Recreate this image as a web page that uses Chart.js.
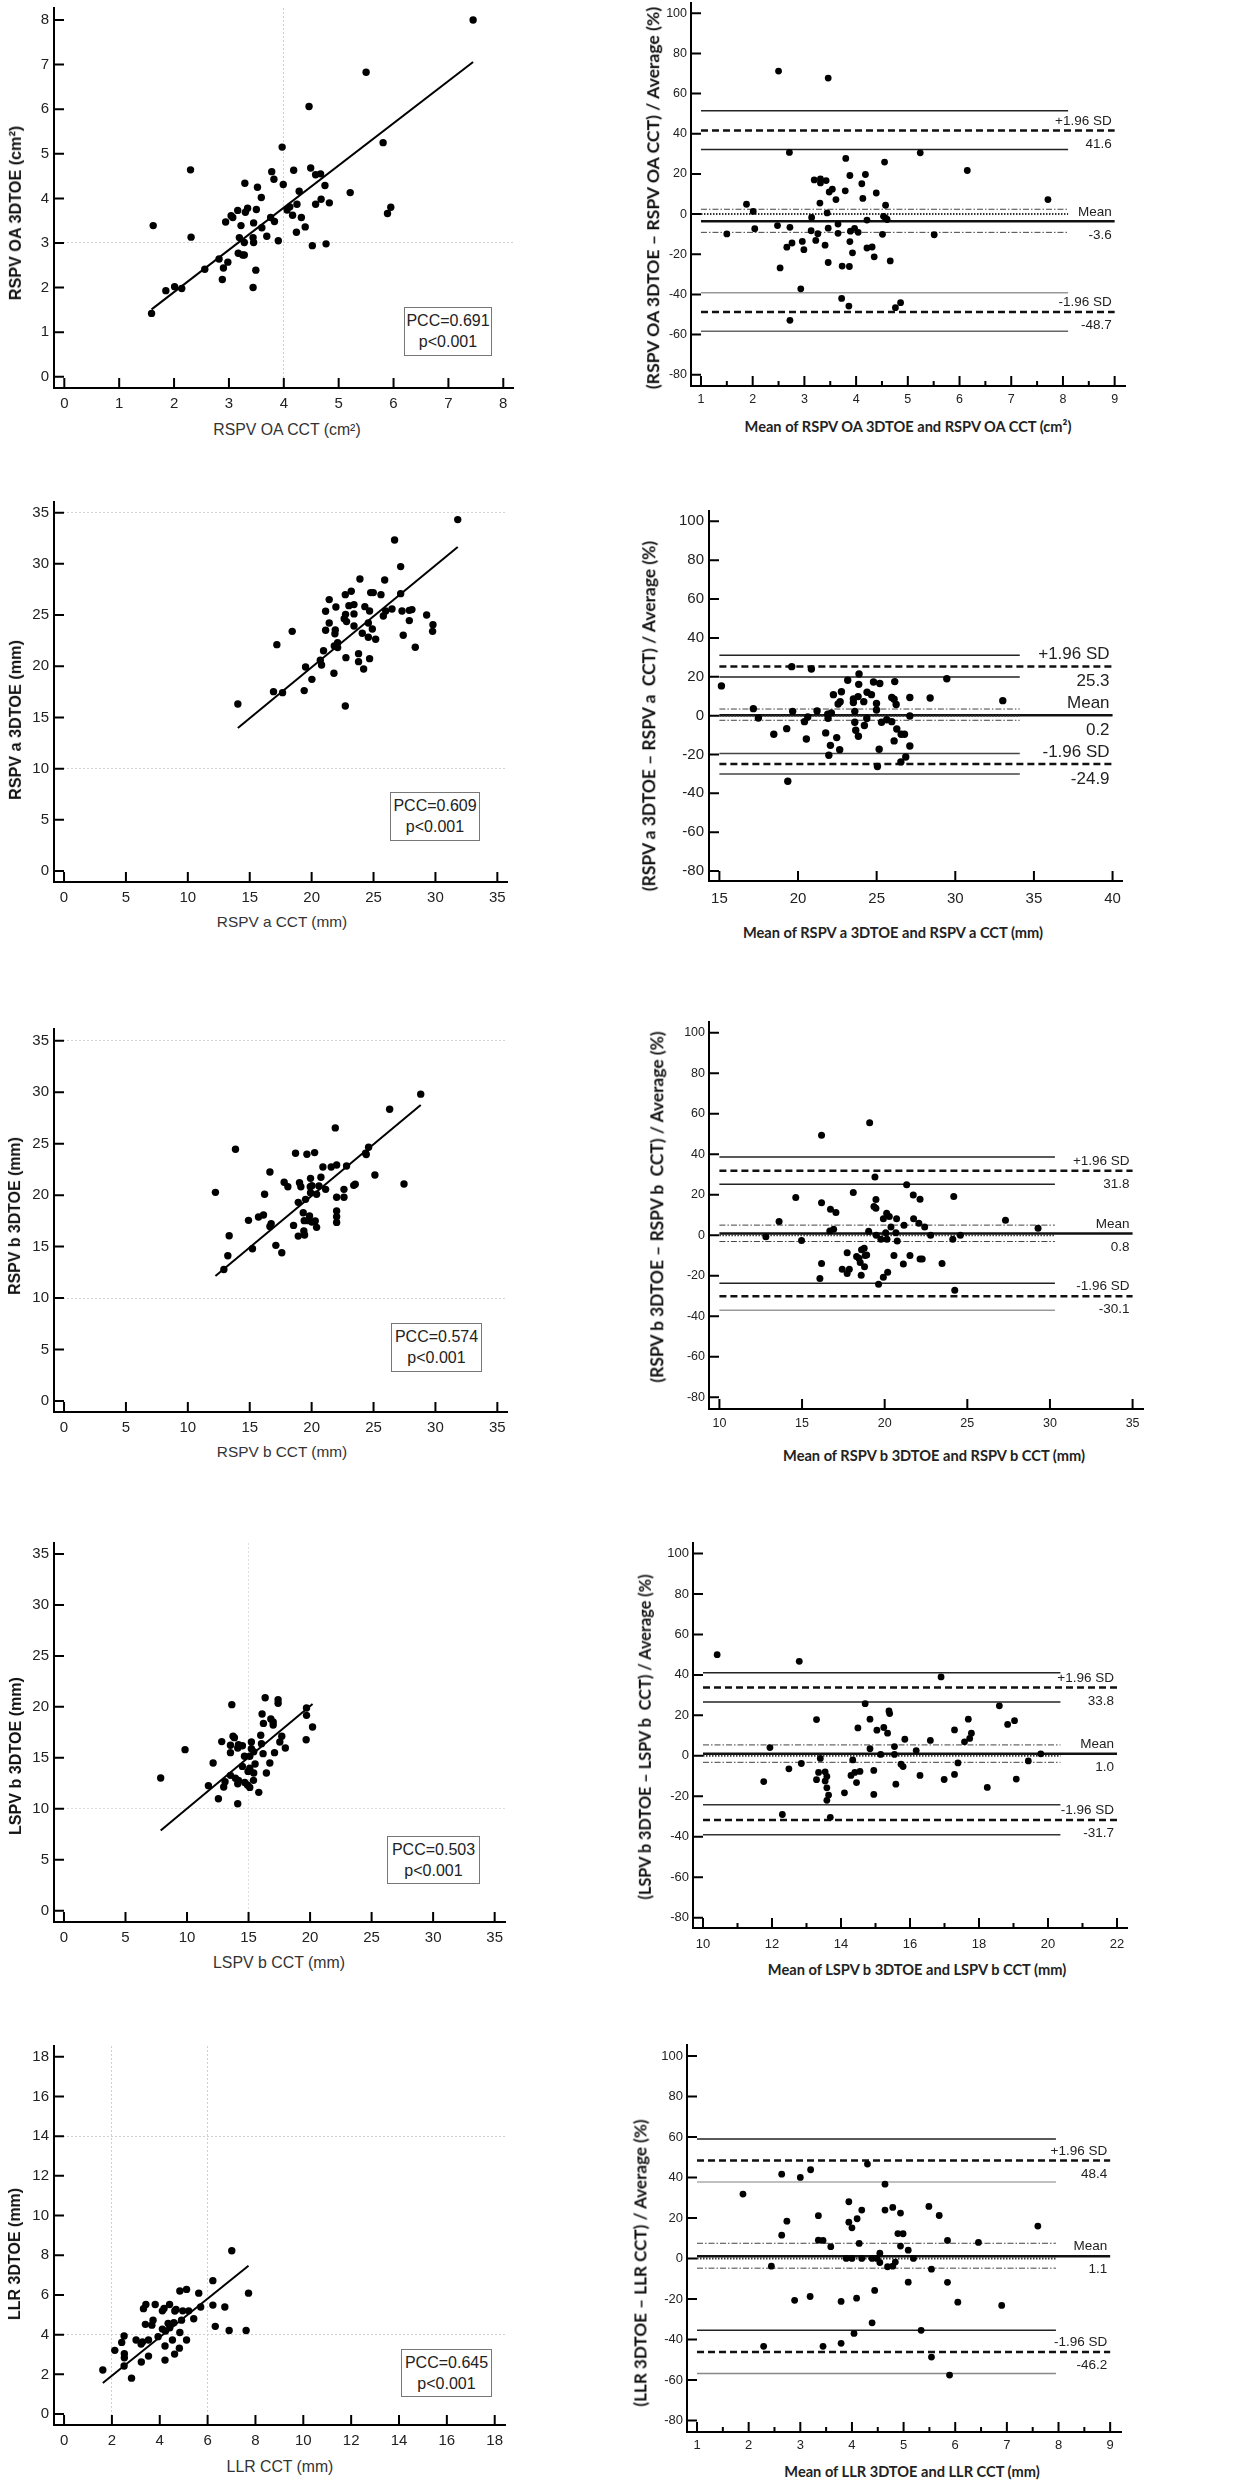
<!DOCTYPE html>
<html><head><meta charset="utf-8">
<script src="https://cdn.jsdelivr.net/npm/chart.js"></script>
<style>
html,body{margin:0;padding:0;background:#fff;}
#page{position:relative;width:1248px;height:2480px;overflow:hidden;background:#fff;}
canvas{position:absolute;}
.t{position:absolute;white-space:pre;line-height:1;transform:translate(-50%,-50%);}
.rot{transform:translate(-50%,-50%) rotate(-90deg);}
.sx{font-family:"Liberation Sans",Arial,sans-serif;font-size:15.5px;color:#333;}
.sy{font-family:"Liberation Sans",Arial,sans-serif;font-weight:bold;font-size:16px;color:#111;}
.bx{font-family:Lato,"Open Sans",sans-serif;font-weight:bold;font-size:15px;color:#222;}
.by{font-family:Lato,"Open Sans",sans-serif;font-weight:bold;font-size:16.5px;color:#111;}
.pcc{position:absolute;border:1.5px solid #777;background:#fff;font-family:"Liberation Sans",Arial,sans-serif;font-size:16px;color:#222;text-align:center;box-sizing:border-box;line-height:21px;padding-top:2px;}
</style></head><body><div id="page"></div>
<script>
// ---------------- DATA ----------------
// Row 1: RSPV OA (cm2)
const oaScatter = [[7.45,8.00],[5.50,6.83],[4.46,6.06],[5.81,5.25],[3.97,5.15],[2.30,4.64],[4.49,4.68],[4.18,4.63],[3.78,4.60],[4.58,4.53],[4.67,4.55],[3.82,4.43],[3.29,4.34],[3.99,4.31],[4.75,4.29],[3.52,4.25],[4.28,4.16],[5.21,4.13],[3.59,4.02],[4.68,3.98],[4.83,3.90],[4.58,3.87],[4.24,3.87],[5.95,3.80],[4.11,3.81],[4.06,3.74],[3.34,3.78],[3.16,3.73],[3.50,3.75],[3.30,3.69],[5.89,3.66],[4.16,3.62],[3.04,3.61],[3.07,3.57],[3.76,3.57],[4.32,3.57],[2.94,3.47],[3.45,3.45],[3.83,3.48],[1.62,3.39],[3.22,3.39],[4.39,3.36],[3.60,3.34],[4.23,3.24],[3.69,3.15],[2.31,3.13],[3.19,3.12],[3.44,3.12],[3.90,3.05],[3.28,3.01],[3.45,3.01],[4.52,2.94],[4.77,2.98],[3.17,2.77],[3.25,2.73],[3.28,2.73],[2.82,2.64],[2.98,2.57],[2.56,2.41],[2.90,2.44],[3.49,2.39],[2.88,2.18],[2.01,2.02],[2.14,1.98],[1.85,1.93],[3.44,2.00],[1.59,1.42]];
const oaFit = [0.004, 0.947]; // intercept, slope
const oaBA = [[2.50,71.2],[3.46,67.7],[2.71,30.7],[5.24,30.5],[3.80,27.7],[4.55,25.9],[6.15,21.7],[4.18,19.7],[3.88,19.2],[3.19,17.0],[3.31,17.5],[3.42,16.7],[3.31,15.5],[4.11,15.1],[3.54,12.4],[3.48,11.0],[3.79,11.6],[4.39,10.5],[4.13,7.8],[3.61,7.2],[7.71,7.2],[1.88,4.9],[3.30,5.5],[4.57,4.4],[2.01,1.3],[3.44,0.6],[3.14,-1.7],[4.53,-1.1],[4.57,-2.0],[4.60,-2.7],[4.21,-3.0],[3.65,-5.0],[2.48,-5.7],[2.72,-6.6],[2.04,-7.3],[3.46,-7.0],[3.97,-7.1],[3.89,-8.5],[3.13,-8.3],[4.04,-9.1],[3.26,-9.8],[3.65,-9.6],[1.50,-9.9],[5.51,-10.3],[4.51,-10.1],[3.22,-13.1],[2.96,-13.6],[3.88,-13.7],[2.76,-14.4],[3.40,-15.5],[2.66,-16.5],[4.31,-16.4],[4.21,-16.9],[2.99,-17.7],[3.93,-19.3],[4.35,-21.3],[4.66,-23.3],[3.46,-24.1],[3.73,-25.9],[3.87,-26.1],[2.53,-26.8],[2.93,-37.2],[3.72,-42.0],[4.86,-44.1],[3.86,-45.8],[4.76,-46.6],[2.72,-52.9]];
// limits: [upperCIhi, +1.96SD, upperCIlo, meanCIhi, mean, meanCIlo, lowerCIhi, -1.96SD, lowerCIlo]
const oaLimits = [51.5, 41.6, 32.2, 2.4, -3.6, -9.1, -39.2, -48.7, -58.4];

// Row 2: RSPV a (mm)
const aScatter = [[31.80,34.32],[26.70,32.33],[27.19,29.73],[23.90,28.52],[25.90,28.43],[23.20,27.32],[22.72,26.99],[27.19,27.09],[24.77,27.19],[24.98,27.19],[25.60,26.99],[21.42,26.51],[23.01,25.92],[23.42,26.02],[21.96,25.79],[24.30,25.82],[26.49,25.59],[25.98,25.40],[27.30,25.40],[27.89,25.46],[28.10,25.53],[21.13,25.37],[24.68,25.40],[22.74,25.07],[23.42,25.11],[25.79,24.91],[29.29,25.01],[22.63,24.65],[22.82,24.36],[21.42,24.23],[24.58,24.23],[27.89,24.46],[29.80,24.06],[23.42,23.93],[24.90,23.64],[21.13,23.51],[21.91,23.54],[18.43,23.41],[29.77,23.41],[24.09,23.22],[21.88,23.18],[27.40,23.02],[24.58,22.83],[25.17,22.63],[17.19,22.11],[22.10,22.31],[21.83,21.98],[22.10,21.82],[28.37,21.85],[20.96,21.52],[23.79,21.23],[22.77,20.84],[23.79,20.45],[24.68,20.74],[20.70,20.58],[20.80,20.12],[19.51,19.93],[24.20,19.73],[21.80,19.31],[20.02,18.72],[16.92,17.52],[17.65,17.42],[19.40,17.62],[22.72,16.12],[14.04,16.31]];
const aFit = [0.0, 0.995];
const aBA = [[15.13,15.3],[17.16,3.6],[17.48,-1.2],[18.46,-9.6],[19.28,-6.7],[19.35,-33.8],[19.60,25.2],[19.66,2.2],[20.85,24.0],[20.41,-3.1],[20.62,-0.7],[20.53,-12.0],[21.21,2.4],[21.76,-8.9],[21.89,0.7],[21.91,-1.4],[22.12,1.4],[21.96,-20.4],[22.06,-15.3],[22.25,10.8],[22.76,12.3],[22.55,6.0],[22.68,7.2],[22.46,-11.3],[22.65,-17.5],[23.16,18.2],[23.52,6.7],[23.52,8.6],[23.82,9.8],[23.86,16.1],[23.88,21.4],[23.61,2.2],[23.61,-3.4],[23.67,-7.5],[23.84,-10.6],[24.18,7.2],[24.39,12.0],[24.67,10.8],[24.37,-1.5],[24.22,-5.1],[24.80,17.3],[24.99,6.3],[24.99,2.9],[25.20,16.5],[25.31,-3.4],[25.64,-2.1],[25.16,-17.3],[25.05,-26.2],[25.96,9.3],[26.11,8.4],[26.15,17.5],[26.24,5.7],[25.96,-3.1],[26.28,-6.9],[26.11,-13.0],[26.56,-9.6],[26.77,-9.6],[27.11,9.3],[27.11,-0.2],[27.11,-15.6],[26.85,-21.3],[26.54,-23.8],[28.40,9.1],[29.46,19.0],[33.02,7.7]];
const aLimits = [31.1, 25.3, 19.9, 3.4, 0.2, -2.4, -19.5, -24.9, -30.1];

// Row 3: RSPV b (mm)
const bScatter = [[28.81,29.81],[26.30,28.35],[21.91,26.53],[13.85,24.46],[24.60,24.65],[18.70,24.07],[19.62,23.97],[20.24,24.13],[24.41,23.94],[20.91,22.74],[21.58,22.74],[22.02,22.93],[22.82,22.83],[16.63,22.25],[25.11,21.96],[20.75,21.73],[27.46,21.08],[23.52,21.05],[23.40,20.95],[19.91,21.63],[17.78,21.25],[18.08,20.82],[19.02,21.21],[19.13,20.82],[19.89,20.82],[20.02,20.92],[20.59,20.89],[21.13,20.56],[22.61,20.56],[16.20,20.08],[19.91,20.24],[20.40,20.08],[22.02,19.79],[22.61,19.79],[18.92,19.30],[19.51,19.59],[19.32,18.29],[19.83,17.97],[19.40,17.52],[19.72,17.52],[20.02,17.39],[20.29,17.48],[20.40,16.87],[22.02,18.46],[22.02,17.90],[22.02,17.35],[18.92,16.02],[19.37,16.51],[19.43,16.12],[18.54,17.06],[17.11,15.12],[17.59,14.40],[16.73,17.22],[16.63,16.96],[16.11,18.07],[15.71,17.87],[14.90,17.55],[15.22,14.79],[13.34,16.06],[13.23,14.11],[12.91,12.78],[12.23,20.27],[24.36,24.07]];
const bFit = [-0.12, 1.002];
const bBA = [[19.09,55.5],[16.18,49.4],[19.41,28.8],[21.33,24.9],[18.10,21.1],[14.62,18.6],[21.73,19.9],[24.18,19.1],[22.14,17.8],[19.47,17.6],[16.18,16.1],[16.72,12.8],[17.05,11.2],[19.35,14.2],[19.47,13.3],[20.12,10.9],[20.28,9.2],[19.92,8.2],[20.72,8.2],[21.75,8.2],[27.31,7.4],[13.61,6.8],[21.17,4.9],[20.38,4.1],[22.07,5.9],[22.42,4.1],[29.28,3.5],[16.68,2.1],[16.91,3.0],[19.03,2.0],[20.06,1.2],[20.68,1.2],[19.49,0.0],[22.78,0.0],[24.58,0.0],[12.81,-0.8],[19.77,-2.0],[20.14,-2.0],[14.97,-2.6],[20.76,-2.8],[24.12,-2.0],[17.73,-8.7],[18.30,-10.5],[18.82,-10.0],[18.60,-7.2],[18.76,-6.4],[18.91,-9.7],[18.44,-11.4],[20.56,-10.0],[21.53,-10.0],[18.52,-13.5],[16.18,-14.0],[21.13,-14.2],[22.14,-11.7],[22.27,-11.7],[23.47,-14.0],[18.78,-15.6],[17.86,-16.8],[17.43,-16.8],[17.73,-18.9],[18.58,-19.8],[20.18,-18.3],[16.08,-21.4],[19.92,-20.8],[19.63,-24.2],[24.24,-27.2]];
const bLimits = [38.6, 31.8, 25.2, 5.0, 0.8, -3.1, -23.7, -30.1, -37.0];

// Row 4: LSPV b (mm)
const lbScatter = [[16.35,20.90],[17.40,20.71],[17.40,20.35],[13.64,20.22],[19.71,19.89],[16.10,19.30],[19.71,19.17],[16.81,18.81],[17.00,18.51],[16.21,18.38],[17.00,18.22],[20.20,18.02],[13.74,17.11],[13.85,16.98],[15.99,17.21],[17.70,17.11],[12.82,16.59],[15.23,16.55],[19.68,16.78],[17.54,16.55],[16.05,16.39],[13.53,16.23],[14.18,16.29],[14.50,16.19],[14.12,15.96],[17.99,15.96],[9.84,15.80],[15.23,15.90],[15.42,15.60],[16.18,15.41],[13.53,15.51],[17.11,15.51],[14.67,15.15],[15.10,15.15],[12.12,14.49],[16.73,14.49],[15.53,14.39],[14.50,14.16],[15.10,13.97],[14.96,13.67],[15.42,13.51],[16.45,13.51],[13.53,13.28],[7.86,13.02],[13.93,12.99],[14.18,12.79],[15.40,12.79],[13.09,12.66],[14.69,12.59],[14.12,12.46],[14.91,12.33],[11.74,12.27],[12.98,12.14],[15.10,12.10],[15.83,11.61],[12.55,10.99],[14.12,10.50]];
const lbFit = [-0.03, 1.006];
const lbBA = [[10.41,50.0],[12.79,46.7],[16.90,39.0],[14.70,25.8],[18.59,24.7],[15.39,22.2],[15.41,20.9],[13.29,17.9],[14.84,18.1],[17.69,18.1],[19.03,17.4],[18.83,15.5],[14.49,13.8],[15.24,14.0],[15.04,12.7],[17.29,12.8],[15.35,11.2],[17.78,11.2],[15.85,8.2],[17.73,8.6],[16.59,7.6],[17.58,6.9],[11.94,4.1],[15.55,4.6],[14.84,3.5],[16.18,2.6],[19.79,1.0],[15.15,0.7],[15.55,0.7],[13.40,-1.3],[14.34,-2.0],[19.43,-2.5],[12.85,-3.8],[15.74,-4.1],[15.80,-5.3],[17.39,-3.5],[12.49,-6.4],[14.95,-7.2],[14.55,-7.7],[13.54,-7.9],[13.35,-8.2],[14.40,-8.2],[14.29,-9.7],[13.59,-10.2],[16.29,-9.7],[17.29,-9.2],[16.99,-11.7],[19.08,-11.5],[13.29,-11.8],[13.54,-12.5],[11.76,-12.7],[14.45,-13.2],[15.59,-14.0],[13.59,-15.8],[18.24,-15.6],[14.10,-18.3],[14.95,-19.1],[13.64,-19.4],[13.59,-22.0],[12.30,-29.0],[13.69,-30.4]];
const lbLimits = [41.1, 33.8, 26.6, 5.4, 1.0, -3.2, -24.2, -31.7, -39.0];

// Row 5: LLR (mm)
const llrScatter = [[7.01,8.23],[6.22,6.72],[4.84,6.20],[5.12,6.28],[5.63,6.09],[7.71,6.09],[3.42,5.52],[3.81,5.52],[4.41,5.52],[3.32,5.31],[4.11,5.20],[4.18,5.32],[4.68,5.27],[4.63,5.19],[4.96,5.20],[5.21,5.20],[5.71,5.39],[6.22,5.49],[6.72,5.39],[3.72,4.73],[3.40,4.52],[3.67,4.48],[4.59,4.60],[4.35,4.57],[4.91,4.73],[5.42,4.80],[4.42,4.35],[4.11,4.28],[4.24,4.18],[6.32,4.42],[6.90,4.21],[7.61,4.21],[4.84,4.11],[3.93,3.90],[2.51,3.93],[2.41,3.61],[3.01,3.73],[3.53,3.73],[3.28,3.63],[3.22,3.53],[4.53,3.73],[5.12,3.73],[2.12,3.21],[4.22,3.43],[4.82,3.32],[2.52,3.04],[2.52,2.84],[3.53,2.92],[4.62,3.02],[3.23,2.62],[4.22,2.72],[2.51,2.42],[2.82,1.81],[1.62,2.22]];
const llrFit = [0.0, 0.969];
const llrBA = [[4.30,46.6],[3.20,43.8],[2.64,41.6],[3.00,40.0],[4.64,36.7],[1.89,31.8],[3.94,28.0],[5.49,25.7],[4.79,25.2],[4.19,23.9],[4.64,23.9],[4.94,22.4],[5.69,21.2],[3.35,21.1],[4.10,19.6],[2.74,18.4],[3.94,17.9],[4.00,15.1],[7.60,16.0],[4.89,12.3],[4.99,12.2],[2.64,11.5],[3.35,9.0],[3.44,8.9],[5.85,8.9],[6.45,7.9],[4.14,7.4],[3.59,5.8],[4.94,6.1],[5.09,4.1],[4.54,2.6],[3.89,0.0],[4.00,0.0],[4.19,0.0],[4.39,0.0],[4.48,0.0],[5.19,0.0],[4.54,-2.0],[4.84,-1.8],[4.79,-3.8],[4.69,-4.1],[2.44,-3.8],[5.54,-5.3],[5.09,-11.7],[5.85,-11.8],[4.44,-15.8],[3.19,-18.8],[4.09,-19.6],[2.89,-20.7],[3.79,-21.2],[6.05,-21.6],[6.90,-23.2],[4.39,-31.8],[5.34,-35.5],[4.04,-37.0],[3.79,-41.9],[2.29,-43.4],[3.44,-43.4],[5.54,-48.7],[5.89,-57.6]];
const llrLimits = [59.0, 48.4, 37.7, 7.5, 1.1, -4.8, -35.4, -46.2, -56.8];

// Tick labels
const oaScTicks = [0,1,2,3,4,5,6,7,8];
const mm35Ticks = [0,5,10,15,20,25,30,35];
const llrScTicks = [0,2,4,6,8,10,12,14,16,18];
const baYTicks = [-80,-60,-40,-20,0,20,40,60,80,100];
const baX1to9 = [1,2,3,4,5,6,7,8,9];
const baXMinor1to9 = [1.5,2.5,3.5,4.5,5.5,6.5,7.5,8.5];
const aBAXTicks = [15,20,25,30,35,40];
const bBAXTicks = [10,15,20,25,30,35];
const lbBAXTicks = [10,12,14,16,18,20,22];
const lbBAXMinor = [11,13,15,17,19,21];

// ---------------- LAYOUT ----------------
const panels = [
 {side:'L', pairs:oaScatter, fit:oaFit, xTicks:oaScTicks, yTicks:oaScTicks, rect:[54,8,513,388], xr:[-0.188,8.177], yr:[-0.253,8.27], gridX:[4], gridY:[3], gridCol:'#cfcfcf', r:3.7, tf:15, tpx:7, tpy:5,
  titles:[{t:'RSPV OA CCT (cm²)',x:287,y:430,c:'sx',w:147},{t:'RSPV OA 3DTOE (cm²)',x:15,y:213,c:'sy',w:174,rot:1}],
  pcc:{t:['PCC=0.691','p<0.001'],box:[404,307,492,356]}},
 {side:'R', pairs:oaBA, lim:oaLimits, shortEnd:8.1, ciCol:['#222','#222','#999','#666'], xTicks:baX1to9, minorX:baXMinor1to9, yTicks:baYTicks, rect:[691,0,1125,386], xr:[0.807,9.2], yr:[-85.6,104.9], r:3.4, tf:12.5, tpx:6, tpy:4, lf:13.5, lo:[9.5,13.5],
  titles:[{t:'(RSPV OA 3DTOE – RSPV OA CCT) / Average (%)',x:653,y:198,c:'by',w:383,rot:1},{t:'Mean of RSPV OA 3DTOE and RSPV OA CCT (cm²)',x:908,y:427,c:'bx',w:327}]},
 {side:'L', pairs:aScatter, fit:aFit, xTicks:mm35Ticks, yTicks:mm35Ticks, rect:[54,502,507,882], xr:[-0.81,35.78], yr:[-1.07,36.04], gridX:[], gridY:[35,10], gridCol:'#d4d4d4', r:3.7, tf:15, tpx:7, tpy:5,
  titles:[{t:'RSPV a CCT (mm)',x:282,y:922,c:'sx',w:130},{t:'RSPV a 3DTOE (mm)',x:15,y:720,c:'sy',w:160,rot:1}],
  pcc:{t:['PCC=0.609','p<0.001'],box:[390,792,480,841]}},
 {side:'R', pairs:aBA, lim:aLimits, shortEnd:34.1, ciCol:['#222','#222','#444','#444'], xTicks:aBAXTicks, minorX:[], yTicks:baYTicks, rect:[709,511,1122,881], xr:[14.34,40.6], yr:[-85.1,105.3], r:3.7, tf:15, tpx:9, tpy:5, lf:17, lo:[12,15],
  titles:[{t:'(RSPV a 3DTOE – RSPV a  CCT) / Average (%)',x:649,y:716,c:'by',w:351,rot:1},{t:'Mean of RSPV a 3DTOE and RSPV a CCT (mm)',x:893,y:933,c:'bx',w:300}]},
 {side:'L', pairs:bScatter, fit:bFit, xTicks:mm35Ticks, yTicks:mm35Ticks, rect:[54,1029,507,1412], xr:[-0.81,35.78], yr:[-1.07,36.14], gridX:[], gridY:[35,10], gridCol:'#d4d4d4', r:3.7, tf:15, tpx:7, tpy:5,
  titles:[{t:'RSPV b CCT (mm)',x:282,y:1452,c:'sx',w:130},{t:'RSPV b 3DTOE (mm)',x:15,y:1216,c:'sy',w:158,rot:1}],
  pcc:{t:['PCC=0.574','p<0.001'],box:[391,1323,482,1372]}},
 {side:'R', pairs:bBA, lim:bLimits, shortEnd:30.3, ciCol:['#222','#222','#222','#999'], xTicks:bBAXTicks, minorX:[], yTicks:baYTicks, rect:[709,1022,1143,1409], xr:[9.37,35.63], yr:[-85.8,105.3], r:3.5, tf:12.5, tpx:7, tpy:4, lf:13.5, lo:[9.5,13.5],
  titles:[{t:'(RSPV b 3DTOE – RSPV b  CCT) / Average (%)',x:657,y:1207,c:'by',w:352,rot:1},{t:'Mean of RSPV b 3DTOE and RSPV b CCT (mm)',x:934,y:1456,c:'bx',w:302}]},
 {side:'L', pairs:lbScatter, fit:lbFit, xTicks:mm35Ticks, yTicks:mm35Ticks, rect:[54,1543,505,1922], xr:[-0.81,35.84], yr:[-1.11,36.08], gridX:[15], gridY:[10], gridCol:'#dedede', r:3.7, tf:15, tpx:7, tpy:5,
  titles:[{t:'LSPV b CCT (mm)',x:279,y:1963,c:'sx',w:132},{t:'LSPV b 3DTOE (mm)',x:15,y:1756,c:'sy',w:158,rot:1}],
  pcc:{t:['PCC=0.503','p<0.001'],box:[387,1836,480,1884]}},
 {side:'R', pairs:lbBA, lim:lbLimits, shortEnd:20.36, ciCol:['#222','#222','#333','#333'], xTicks:lbBAXTicks, minorX:lbBAXMinor, yTicks:baYTicks, rect:[693,1543,1127,1928], xr:[9.71,22.29], yr:[-85.1,105.2], r:3.4, tf:13, tpx:9, tpy:4, lf:13.5, lo:[9.5,13.5],
  titles:[{t:'(LSPV b 3DTOE – LSPV b  CCT) / Average (%)',x:645,y:1737,c:'by',w:325,rot:1},{t:'Mean of LSPV b 3DTOE and LSPV b CCT (mm)',x:917,y:1970,c:'bx',w:298}]},
 {side:'L', pairs:llrScatter, fit:llrFit, xTicks:llrScTicks, yTicks:llrScTicks, rect:[54,2046,505,2425], xr:[-0.42,18.43], yr:[-0.55,18.54], gridX:[2,6], gridY:[14,4], gridCol:'#cfcfcf', r:3.7, tf:15, tpx:7, tpy:5,
  titles:[{t:'LLR CCT (mm)',x:280,y:2467,c:'sx',w:107},{t:'LLR 3DTOE (mm)',x:15,y:2254,c:'sy',w:132,rot:1}],
  pcc:{t:['PCC=0.645','p<0.001'],box:[401,2349,492,2397]}},
 {side:'R', pairs:llrBA, lim:llrLimits, shortEnd:7.95, ciCol:['#222','#aaa','#222','#888'], xTicks:baX1to9, minorX:baXMinor1to9, yTicks:baYTicks, rect:[687,2045,1121,2432], xr:[0.806,9.21], yr:[-85.7,105.4], r:3.4, tf:13, tpx:6, tpy:4, lf:13.5, lo:[9.5,13.5],
  titles:[{t:'(LLR 3DTOE – LLR CCT) / Average (%)',x:640,y:2263,c:'by',w:287,rot:1},{t:'Mean of LLR 3DTOE and LLR CCT (mm)',x:912,y:2472,c:'bx',w:255}]}
];

const page = document.getElementById('page');
const FONT = "'Liberation Sans', Arial, sans-serif";

function fmt(v){ return (v < 0 ? '-' : '') + Math.abs(v).toFixed(1); }

function build(p){
  const [L,T,R,B] = p.rect;
  const isL = p.side === 'L';
  const cx = isL ? 0 : 620, cw = isL ? 530 : 628;
  const cy = Math.max(0, T - 16), ch = B + 30 - cy;
  const cv = document.createElement('canvas');
  cv.width = cw; cv.height = ch;
  cv.style.left = cx + 'px'; cv.style.top = cy + 'px';
  cv.style.width = cw + 'px'; cv.style.height = ch + 'px';
  page.appendChild(cv);

  const datasets = [];
  datasets.push({data:p.pairs.map(([x,y])=>({x,y})), showLine:false, pointRadius:p.r, pointHoverRadius:p.r,
    pointBackgroundColor:'#000', pointBorderColor:'#000', pointBorderWidth:0});
  if (p.fit){
    const xs = p.pairs.map(q=>q[0]);
    const x0 = Math.min(...xs), x1 = Math.max(...xs);
    datasets.push({data:[{x:x0,y:p.fit[0]+p.fit[1]*x0},{x:x1,y:p.fit[0]+p.fit[1]*x1}], showLine:true,
      pointRadius:0, pointHoverRadius:0, borderColor:'#000', borderWidth:2, fill:false});
  }
  if (p.lim){
    const xs0 = p.xTicks[0], xsF = p.xTicks[p.xTicks.length-1], xsS = p.shortEnd;
    const dashDot = [6,2,1.5,2];
    const specs = [
      {v:p.lim[0], end:xsS, w:1.5, dash:[], col:p.ciCol[0]},
      {v:p.lim[1], end:xsF, w:2.5, dash:[7,4], col:'#111'},
      {v:p.lim[2], end:xsS, w:1.5, dash:[], col:p.ciCol[1]},
      {v:p.lim[3], end:xsS, w:1, dash:dashDot, col:'#444'},
      {v:0, end:xsS, w:2, dash:[1.5,1.5], col:'#333'},
      {v:p.lim[4], end:xsF, w:2.5, dash:[], col:'#111'},
      {v:p.lim[5], end:xsS, w:1, dash:dashDot, col:'#444'},
      {v:p.lim[6], end:xsS, w:1.5, dash:[], col:p.ciCol[2]},
      {v:p.lim[7], end:xsF, w:2.5, dash:[7,4], col:'#111'},
      {v:p.lim[8], end:xsS, w:1.5, dash:[], col:p.ciCol[3]}
    ];
    specs.forEach(s=>datasets.push({data:[{x:xs0,y:s.v},{x:s.end,y:s.v}], showLine:true, pointRadius:0, pointHoverRadius:0,
      borderColor:s.col, borderWidth:s.w, borderDash:s.dash, fill:false}));
  }

  const gridColorFn = (vals) => (ctx) => (ctx.tick && vals && vals.includes(ctx.tick.value)) ? (p.gridCol||'#ccc') : 'rgba(0,0,0,0)';

  const inTicks = {
    id:'inTicks',
    afterDraw(chart){
      const {ctx, chartArea:{left,bottom}, scales:{x,y}} = chart;
      ctx.save(); ctx.strokeStyle = '#000'; ctx.lineWidth = 2; ctx.beginPath();
      x.ticks.forEach(t=>{ const px = x.getPixelForValue(t.value); ctx.moveTo(px,bottom); ctx.lineTo(px,bottom-10); });
      (p.minorX||[]).forEach(v=>{ const px = x.getPixelForValue(v); ctx.moveTo(px,bottom); ctx.lineTo(px,bottom-5); });
      y.ticks.forEach(t=>{ const py = y.getPixelForValue(t.value); ctx.moveTo(left,py); ctx.lineTo(left+10,py); });
      ctx.stroke(); ctx.restore();
      if (p.lim){
        const xr = x.getPixelForValue(p.xTicks[p.xTicks.length-1]) - 3;
        const labs = [['+1.96 SD',p.lim[1],0],[fmt(p.lim[1]),p.lim[1],1],['Mean',p.lim[4],0],[fmt(p.lim[4]),p.lim[4],1],['-1.96 SD',p.lim[7],0],[fmt(p.lim[7]),p.lim[7],1]];
        ctx.save(); ctx.fillStyle = '#222'; ctx.font = p.lf + 'px ' + FONT; ctx.textAlign = 'right'; ctx.textBaseline = 'middle';
        labs.forEach(([txt,v,below])=>{ const py = y.getPixelForValue(v); ctx.fillText(txt, xr, below ? py + p.lo[1] : py - p.lo[0]); });
        ctx.restore();
      }
    }
  };

  new Chart(cv, {
    type:'scatter',
    data:{datasets},
    options:{
      responsive:false, animation:false, devicePixelRatio:1, events:[],
      layout:{padding:{left:0, top:T-cy, right:cx+cw-R, bottom:0}},
      plugins:{legend:{display:false}, tooltip:{enabled:false}},
      scales:{
        x:{type:'linear', min:p.xr[0], max:p.xr[1],
          afterBuildTicks:(s)=>{ s.ticks = p.xTicks.map(v=>({value:v})); },
          afterFit:(s)=>{ s.height = cy + ch - B; s.paddingLeft = 0; s.paddingRight = 0; },
          ticks:{autoSkip:false, maxRotation:0, minRotation:0, padding:p.tpx, color:'#222', font:{family:FONT, size:p.tf}, callback:(v)=>String(v)},
          grid:{drawTicks:false, color:gridColorFn(p.gridX), lineWidth:1},
          border:{display:true, color:'#000', width:2, dash:[2,2]}},
        y:{type:'linear', min:p.yr[0], max:p.yr[1],
          afterBuildTicks:(s)=>{ s.ticks = p.yTicks.map(v=>({value:v})); },
          afterFit:(s)=>{ s.width = L - cx; s.paddingTop = 0; s.paddingBottom = 0; },
          ticks:{autoSkip:false, padding:p.tpy, color:'#222', font:{family:FONT, size:p.tf}, callback:(v)=>String(v)},
          grid:{drawTicks:false, color:gridColorFn(p.gridY), lineWidth:1},
          border:{display:true, color:'#000', width:2, dash:[2,2]}}
      }
    },
    plugins:[inTicks]
  });

  p.titles.forEach(tt=>{
    const d = document.createElement('div');
    d.className = 't ' + tt.c + (tt.rot ? ' rot' : '');
    d.textContent = tt.t;
    d.style.left = tt.x + 'px'; d.style.top = tt.y + 'px';
    page.appendChild(d);
    const w = d.offsetWidth;
    if (w > 0){ const fs = parseFloat(getComputedStyle(d).fontSize); d.style.fontSize = (fs * tt.w / w).toFixed(2) + 'px'; }
  });
  if (p.pcc){
    const [x0,y0,x1,y1] = p.pcc.box;
    const d = document.createElement('div');
    d.className = 'pcc';
    d.style.left = x0+'px'; d.style.top = y0+'px'; d.style.width = (x1-x0)+'px'; d.style.height = (y1-y0)+'px';
    d.innerHTML = p.pcc.t.join('<br>');
    page.appendChild(d);
  }
}
panels.forEach(build);
</script>
</body></html>
